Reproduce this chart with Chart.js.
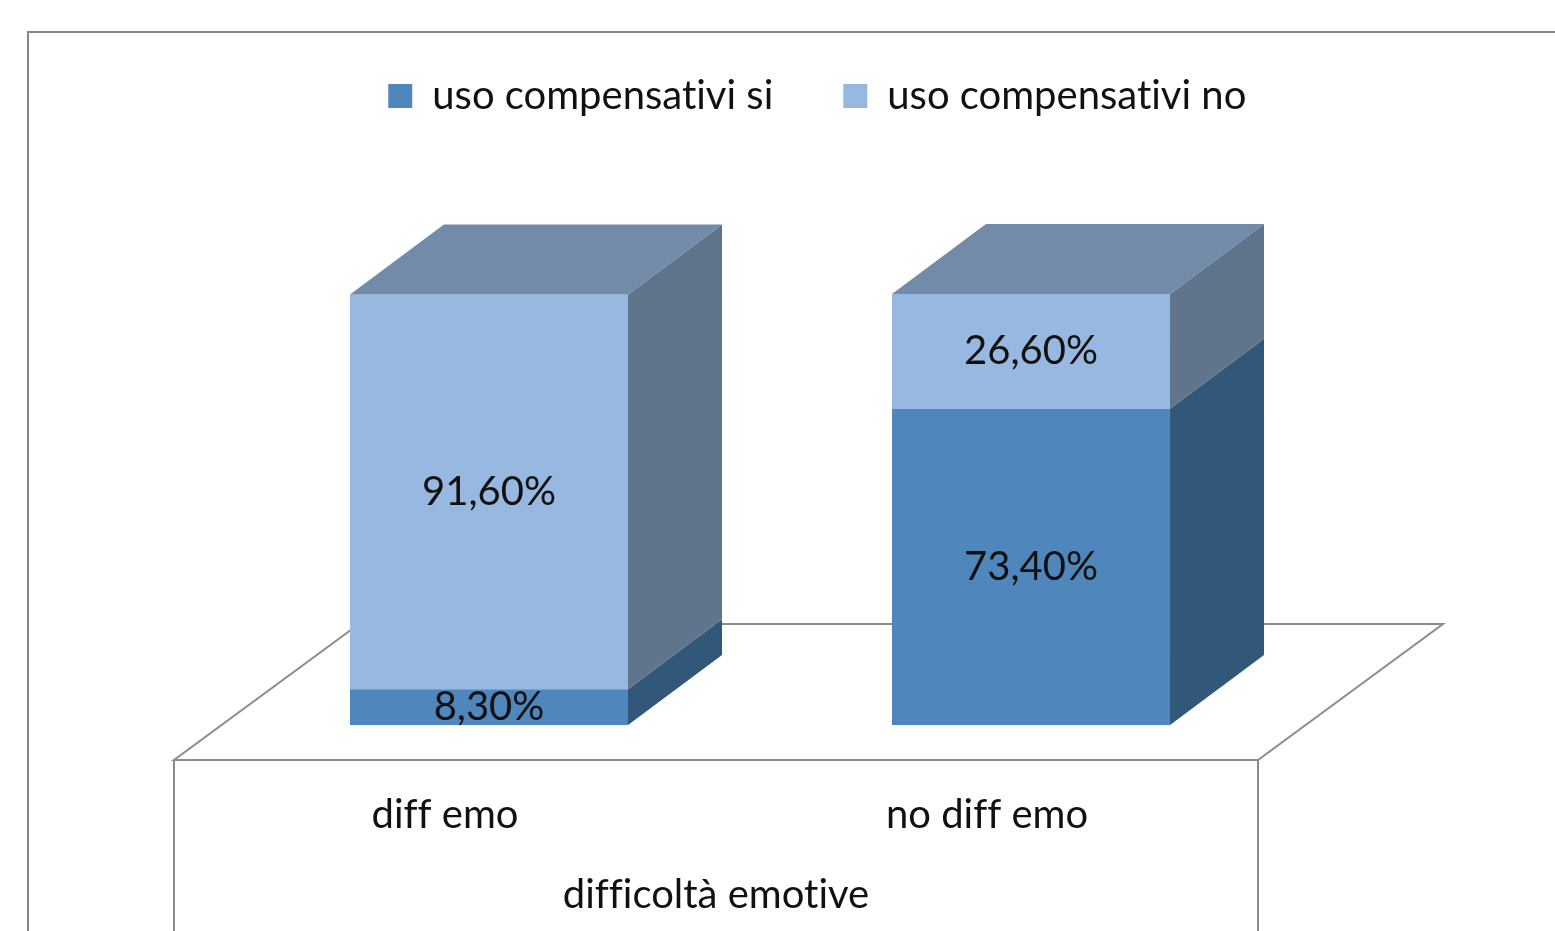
<!DOCTYPE html>
<html>
<head>
<meta charset="utf-8">
<script src="https://cdn.jsdelivr.net/npm/chart.js@4.4.1/dist/chart.umd.min.js"></script>
<style>
  body { margin: 0; background: #fff; }
  canvas { display: block; }
</style>
</head>
<body>
<canvas id="chart" width="1555" height="931"></canvas>
<script>
// data
const categories = ['diff emo', 'no diff emo'];
const seriesNames = ['uso compensativi si', 'uso compensativi no'];
const usoSi = [8.3, 73.4];
const usoNo = [91.6, 26.6];
const axisTitle = 'difficoltà emotive';

// styles
const FONT = 'Lato, "Noto Sans", sans-serif';
const FONT_SIZE = 40;
const frontColors = ['#4f87bc', '#97b8e0'];
const sideColors = ['#315878', '#60748c'];
const topColors = ['#34628a', '#718ba8'];
const DEPTH_X = 94, DEPTH_Y = 70;        // bar depth
const FLOOR_FRONT = 35, FLOOR_SHIFT = 44; // floor front edge vs bar front
const FLOOR_DX = 185, FLOOR_DY = 136;    // floor depth
const LINE_COLOR = '#8c8c8c';

function fmt(v) {
    return v.toFixed(2).replace('.', ',') + '%';
}

const box3d = {
    id: 'box3d',
    beforeInit(chart) {
        const origFit = chart.legend.fit;
        chart.legend.fit = function () {
            origFit.call(this);
            this.height += 168;
        };
    },
    afterLayout(chart) {
        chart.legend.left += 58;
        chart.legend.right += 58;
    },
    beforeDraw(chart) {
        const ctx = chart.ctx;
        ctx.textRendering = 'optimizeSpeed'; // no ligatures
        ctx.save();
        ctx.fillStyle = '#fff';
        ctx.fillRect(0, 0, chart.width, chart.height);
        ctx.strokeStyle = '#858585';
        ctx.lineWidth = 2;
        ctx.beginPath();
        ctx.moveTo(28, chart.height);
        ctx.lineTo(28, 32);
        ctx.lineTo(chart.width, 32);
        ctx.stroke();
        ctx.restore();
    },
    beforeDatasetsDraw(chart) {
        const ctx = chart.ctx;
        const a = chart.chartArea;
        const fy = a.bottom + FLOOR_FRONT;
        const fl = a.left - FLOOR_SHIFT, fr = a.right - FLOOR_SHIFT;
        ctx.save();
        ctx.strokeStyle = LINE_COLOR;
        ctx.lineWidth = 2;
        ctx.beginPath();
        ctx.moveTo(fl, fy);
        ctx.lineTo(fr, fy);
        ctx.lineTo(fr + FLOOR_DX, fy - FLOOR_DY);
        ctx.lineTo(fl + FLOOR_DX, fy - FLOOR_DY);
        ctx.closePath();
        ctx.moveTo(fl, fy);
        ctx.lineTo(fl, chart.height);
        ctx.moveTo(fr, fy);
        ctx.lineTo(fr, chart.height);
        ctx.stroke();
        ctx.restore();
    },
    afterDatasetsDraw(chart) {
        const ctx = chart.ctx;
        const n = chart.data.datasets.length;
        ctx.save();
        chart.data.datasets.forEach((ds, di) => {
            const meta = chart.getDatasetMeta(di);
            meta.data.forEach((bar) => {
                const p = bar.getProps(['x', 'y', 'base', 'width'], true);
                const l = p.x - p.width / 2, r = p.x + p.width / 2;
                const t = Math.min(p.y, p.base), b = Math.max(p.y, p.base);
                ctx.fillStyle = sideColors[di];
                ctx.beginPath();
                ctx.moveTo(r, t);
                ctx.lineTo(r + DEPTH_X, t - DEPTH_Y);
                ctx.lineTo(r + DEPTH_X, b - DEPTH_Y);
                ctx.lineTo(r, b);
                ctx.closePath();
                ctx.fill();
                if (di === n - 1) {
                    ctx.fillStyle = topColors[di];
                    ctx.beginPath();
                    ctx.moveTo(l, t);
                    ctx.lineTo(l + DEPTH_X, t - DEPTH_Y);
                    ctx.lineTo(r + DEPTH_X, t - DEPTH_Y);
                    ctx.lineTo(r, t);
                    ctx.closePath();
                    ctx.fill();
                }
            });
        });
        // value labels
        ctx.fillStyle = '#111';
        ctx.font = FONT_SIZE + 'px ' + FONT;
        ctx.textAlign = 'center';
        ctx.textBaseline = 'middle';
        chart.data.datasets.forEach((ds, di) => {
            const meta = chart.getDatasetMeta(di);
            meta.data.forEach((bar, i) => {
                const p = bar.getProps(['x', 'y', 'base'], true);
                ctx.fillText(fmt(ds.data[i]), p.x, (p.y + p.base) / 2);
            });
        });
        ctx.restore();
    },
    afterDraw(chart) {
        const ctx = chart.ctx;
        const a = chart.chartArea;
        ctx.save();
        ctx.fillStyle = '#111';
        ctx.font = FONT_SIZE + 'px ' + FONT;
        ctx.textAlign = 'center';
        ctx.textBaseline = 'middle';
        ctx.fillText(axisTitle, (a.left + a.right) / 2 - FLOOR_SHIFT, a.bottom + 170);
        ctx.restore();
    }
};

const ctx = document.getElementById('chart').getContext('2d');
new Chart(ctx, {
    type: 'bar',
    data: {
        labels: categories,
        datasets: [{
            label: seriesNames[0],
            data: usoSi,
            backgroundColor: frontColors[0]
        }, {
            label: seriesNames[1],
            data: usoNo,
            backgroundColor: frontColors[1]
        }]
    },
    options: {
        responsive: false,
        animation: false,
        layout: {
            padding: { left: 218, right: 253, top: 6, bottom: 26 }
        },
        datasets: {
            bar: {
                categoryPercentage: 1,
                barPercentage: 0.513,
                borderWidth: 0
            }
        },
        scales: {
            x: {
                stacked: true,
                grid: { display: false, drawTicks: false },
                border: { display: false },
                ticks: {
                    color: '#111',
                    font: { family: FONT, size: FONT_SIZE },
                    padding: 66,
                    labelOffset: -44
                }
            },
            y: {
                stacked: true,
                display: false,
                min: 0,
                max: 100
            }
        },
        plugins: {
            legend: {
                position: 'top',
                labels: {
                    boxWidth: 24,
                    boxHeight: 24,
                    padding: 70,
                    color: '#111',
                    font: { family: FONT, size: FONT_SIZE }
                }
            },
            tooltip: { enabled: false }
        }
    },
    plugins: [box3d]
});
</script>
</body>
</html>
